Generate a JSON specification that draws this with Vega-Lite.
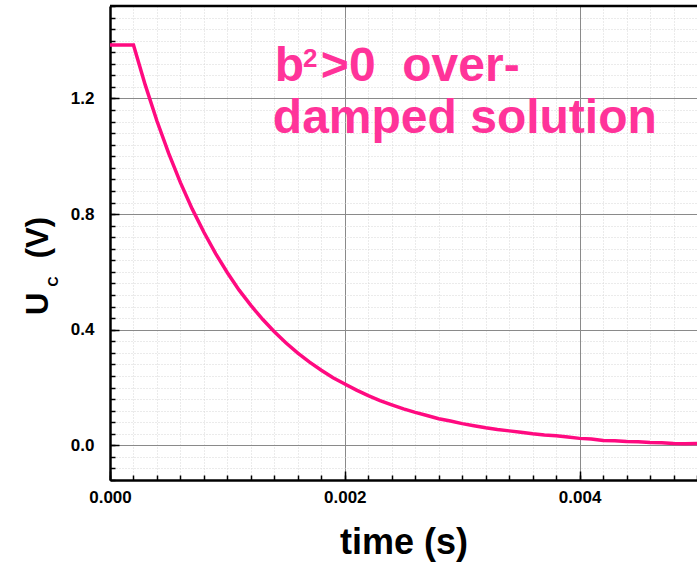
{
  "$schema": "https://vega.github.io/schema/vega-lite/v6.json",
  "width": 587,
  "height": 474,
  "autosize": "none",
  "padding": {"left": 110, "top": 6, "right": 0, "bottom": 82},
  "background": "white",
  "view": {"stroke": null},
  "config": {
    "font": "Liberation Sans",
    "axis": {"labelFont": "Liberation Sans", "titleFont": "Liberation Sans"}
  },
  "resolve": {"axis": {"x": "independent", "y": "independent"}},
  "datasets": {
    "signal": [
      {"t": 0.0, "u": 1.385},
      {"t": 0.0001, "u": 1.385},
      {"t": 0.0002, "u": 1.385},
      {"t": 0.0003, "u": 1.247},
      {"t": 0.0004, "u": 1.122},
      {"t": 0.0005, "u": 1.010},
      {"t": 0.0006, "u": 0.909},
      {"t": 0.0007, "u": 0.818},
      {"t": 0.0008, "u": 0.737},
      {"t": 0.0009, "u": 0.663},
      {"t": 0.0010, "u": 0.597},
      {"t": 0.0011, "u": 0.537},
      {"t": 0.0012, "u": 0.484},
      {"t": 0.0013, "u": 0.436},
      {"t": 0.0014, "u": 0.393},
      {"t": 0.0015, "u": 0.354},
      {"t": 0.0016, "u": 0.319},
      {"t": 0.0017, "u": 0.288},
      {"t": 0.0018, "u": 0.260},
      {"t": 0.0019, "u": 0.234},
      {"t": 0.0020, "u": 0.212},
      {"t": 0.0021, "u": 0.191},
      {"t": 0.0022, "u": 0.172},
      {"t": 0.0023, "u": 0.155},
      {"t": 0.0024, "u": 0.140},
      {"t": 0.0025, "u": 0.126},
      {"t": 0.0026, "u": 0.114},
      {"t": 0.0027, "u": 0.103},
      {"t": 0.0028, "u": 0.092},
      {"t": 0.0029, "u": 0.084},
      {"t": 0.0030, "u": 0.075},
      {"t": 0.0031, "u": 0.068},
      {"t": 0.0032, "u": 0.061},
      {"t": 0.0033, "u": 0.055},
      {"t": 0.0034, "u": 0.050},
      {"t": 0.0035, "u": 0.045},
      {"t": 0.0036, "u": 0.040},
      {"t": 0.0037, "u": 0.036},
      {"t": 0.0038, "u": 0.033},
      {"t": 0.0039, "u": 0.029},
      {"t": 0.0040, "u": 0.024},
      {"t": 0.0041, "u": 0.022},
      {"t": 0.0042, "u": 0.017},
      {"t": 0.0043, "u": 0.016},
      {"t": 0.0044, "u": 0.013},
      {"t": 0.0045, "u": 0.012},
      {"t": 0.0046, "u": 0.010},
      {"t": 0.0047, "u": 0.009},
      {"t": 0.0048, "u": 0.006},
      {"t": 0.0049, "u": 0.005},
      {"t": 0.0050, "u": 0.006}
    ],
    "notes": [
      {"t": 0.001404, "u": 1.26, "label": "b"},
      {"t": 0.001796, "u": 1.26, "label": ">0 \u00a0over-"},
      {"t": 0.001387, "u": 1.081, "label": "damped solution"}
    ]
  },
  "layer": [
    {
      "data": {"name": "signal"},
      "mark": {"type": "line", "opacity": 0},
      "encoding": {
        "x": {
          "field": "t",
          "type": "quantitative",
          "scale": {"domain": [0, 0.005], "nice": false, "zero": false},
          "axis": {
            "orient": "bottom",
            "values": [0, 0.0002, 0.0004, 0.0006, 0.0008, 0.001, 0.0012, 0.0014, 0.0016, 0.0018, 0.002, 0.0022, 0.0024, 0.0026, 0.0028, 0.003, 0.0032, 0.0034, 0.0036, 0.0038, 0.004, 0.0042, 0.0044, 0.0046, 0.0048, 0.005],
            "labelExpr": "abs(datum.value*500 - round(datum.value*500)) < 1e-6 ? format(datum.value, '.3f') : ''",
            "labelOverlap": false,
            "labelFlush": false,
            "labelFontSize": 17,
            "labelFontWeight": "bold",
            "labelColor": "black",
            "labelPadding": 14,
            "domainColor": "black",
            "domainWidth": 2.5,
            "tickColor": "black",
            "tickWidth": 1.5,
            "tickSize": -5,
            "grid": true,
            "gridColor": "#d6d6d6",
            "gridDash": [1, 2],
            "gridWidth": 1,
            "title": "time (s)",
            "titleFontSize": 36,
            "titleFontWeight": "bold",
            "titleColor": "black",
            "titleBaseline": "alphabetic",
            "titleY": 73,
            "encode": {"labels": {"update": {"dy": {"value": 2}}}}
          }
        },
        "y": {
          "field": "u",
          "type": "quantitative",
          "scale": {"domain": [-0.12, 1.52], "nice": false, "zero": false},
          "axis": {
            "orient": "left",
            "values": [-0.12, -0.08, -0.04, 0, 0.04, 0.08, 0.12, 0.16, 0.2, 0.24, 0.28, 0.32, 0.36, 0.4, 0.44, 0.48, 0.52, 0.56, 0.6, 0.64, 0.68, 0.72, 0.76, 0.8, 0.84, 0.88, 0.92, 0.96, 1, 1.04, 1.08, 1.12, 1.16, 1.2, 1.24, 1.28, 1.32, 1.36, 1.4, 1.44, 1.48, 1.52],
            "labelExpr": "abs(datum.value*2.5 - round(datum.value*2.5)) < 1e-6 ? format(datum.value, '.1f') : ''",
            "labelOverlap": false,
            "labelFlush": false,
            "labelFontSize": 17,
            "labelFontWeight": "bold",
            "labelColor": "black",
            "labelPadding": 21,
            "domainColor": "black",
            "domainWidth": 2.5,
            "tickColor": "black",
            "tickWidth": 1.5,
            "tickSize": -5,
            "grid": true,
            "gridColor": "#d6d6d6",
            "gridDash": [1, 2],
            "gridWidth": 1,
            "title": "U\u00a0\u00a0\u00a0\u00a0(V)",
            "titleFontSize": 31,
            "titleFontWeight": "bold",
            "titleColor": "black",
            "titleAngle": 270,
            "titleAlign": "center",
            "titleBaseline": "alphabetic",
            "titleX": -63,
            "titleY": 259.5,
            "encode": {"labels": {"update": {"dx": {"value": -4}}}}
          }
        }
      }
    },
    {
      "data": {"name": "signal"},
      "mark": {"type": "line", "opacity": 0},
      "encoding": {
        "x": {
          "field": "t",
          "type": "quantitative",
          "axis": {
            "orient": "bottom",
            "values": [0, 0.002, 0.004],
            "labels": false,
            "domain": false,
            "tickColor": "black",
            "tickWidth": 1.5,
            "tickSize": -9,
            "grid": true,
            "gridColor": "#8a8a8a",
            "gridWidth": 1,
            "title": null
          }
        },
        "y": {
          "field": "u",
          "type": "quantitative",
          "axis": {
            "orient": "left",
            "values": [0, 0.4, 0.8, 1.2],
            "labels": false,
            "domain": false,
            "tickColor": "black",
            "tickWidth": 1.5,
            "tickSize": -9,
            "grid": true,
            "gridColor": "#8a8a8a",
            "gridWidth": 1,
            "title": null
          }
        }
      }
    },
    {
      "data": {"name": "signal"},
      "mark": {"type": "line", "color": "#ff0a80", "strokeWidth": 3.5, "clip": true},
      "encoding": {
        "x": {"field": "t", "type": "quantitative", "axis": null},
        "y": {"field": "u", "type": "quantitative", "axis": null}
      }
    },
    {
      "data": {"values": [{}]},
      "mark": {"type": "rule", "color": "black", "strokeWidth": 2.5},
      "encoding": {"y": {"datum": 1.52, "type": "quantitative", "axis": null}}
    },
    {
      "data": {"name": "notes"},
      "mark": {"type": "text", "color": "#ff3399", "font": "Liberation Sans", "fontSize": 48, "fontWeight": "bold", "align": "left", "baseline": "alphabetic"},
      "encoding": {
        "x": {"field": "t", "type": "quantitative", "axis": null},
        "y": {"field": "u", "type": "quantitative", "axis": null},
        "text": {"field": "label"}
      }
    },
    {
      "data": {"values": [{"t": 0.001643, "u": 1.308, "label": "2"}]},
      "mark": {"type": "text", "color": "#ff3399", "font": "Liberation Sans", "fontSize": 26, "fontWeight": "bold", "align": "left", "baseline": "alphabetic"},
      "encoding": {
        "x": {"field": "t", "type": "quantitative", "axis": null},
        "y": {"field": "u", "type": "quantitative", "axis": null},
        "text": {"field": "label"}
      }
    },
    {
      "data": {"values": [{"t": -0.00044, "u": 0.567, "label": "C"}]},
      "mark": {"type": "text", "color": "black", "font": "Liberation Sans", "fontSize": 14, "fontWeight": "bold", "align": "center", "baseline": "alphabetic", "angle": 270},
      "encoding": {
        "x": {"field": "t", "type": "quantitative", "axis": null},
        "y": {"field": "u", "type": "quantitative", "axis": null},
        "text": {"field": "label"}
      }
    }
  ]
}
